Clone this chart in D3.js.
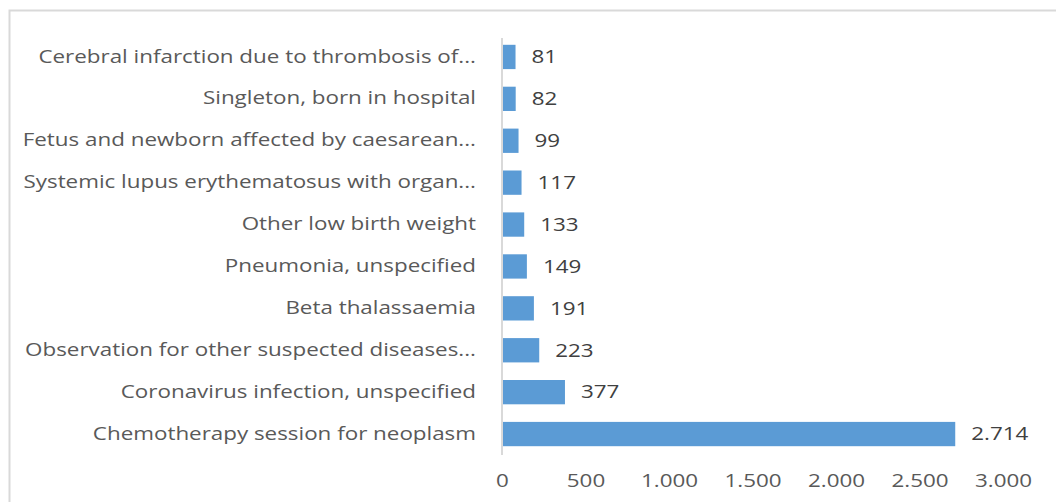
<!DOCTYPE html>
<html>
<head>
<meta charset="utf-8">
<script src="https://cdn.jsdelivr.net/npm/d3@7"></script>
<style>
body{margin:0;background:#fff;}
text{font-family:"Open Sans",sans-serif;}
</style>
</head>
<body>
<svg></svg>
<script>
var categories=["Cerebral infarction due to thrombosis of...","Singleton, born in hospital","Fetus and newborn affected by caesarean...","Systemic lupus erythematosus with organ...","Other low birth weight","Pneumonia, unspecified","Beta thalassaemia","Observation for other suspected diseases...","Coronavirus infection, unspecified","Chemotherapy session for neoplasm"]
var values=[81,82,99,117,133,149,191,223,377,2714]
var ticks=[0,500,1000,1500,2000,2500,3000]

var width=1056, height=502
var svg=d3.select("svg").attr("width",width).attr("height",height)
var stretch=1.28, fs=17.5

// chart frame
svg.append("rect")
    .attr("x",9.5).attr("y",10.5)
    .attr("width",1060).attr("height",510)
    .attr("fill","none").attr("stroke","#d9d9d9").attr("stroke-width",2)

var plot={left:502,right:1003,top:36,bottom:455}

var x=d3.scaleLinear().domain([0,3000]).range([plot.left,plot.right])
var y=d3.scaleBand().domain(categories).range([plot.top,plot.bottom]).paddingInner(0.42).paddingOuter(0.21)

var fmt=function(v){return d3.format(",")(v).replace(/,/g,".")}

svg.selectAll("rect.bar")
    .data(values)
    .enter()
    .append("rect")
    .attr("class","bar")
    .attr("x",x(0))
    .attr("y",function(d,i){return y(categories[i])})
    .attr("width",function(d){return x(d)-x(0)})
    .attr("height",y.bandwidth())
    .attr("fill","#5b9bd5")

// value labels
svg.selectAll("text.val")
    .data(values)
    .enter()
    .append("text")
    .attr("class","val")
    .attr("transform",function(d,i){return "translate("+(x(d)+16)+","+(y(categories[i])+y.bandwidth()/2)+") scale("+stretch+",1)"})
    .attr("dy","0.36em")
    .attr("font-size",fs)
    .attr("fill","#404040")
    .text(fmt)

// category axis
var yAxis=d3.axisLeft(y).tickSize(0).tickPadding(0)
var gy=svg.append("g").attr("transform","translate("+plot.left+",0)").call(yAxis)
gy.select(".domain").attr("stroke","#d9d9d9").attr("stroke-width",2).attr("d","M0,"+(plot.top+2)+"V"+plot.bottom)
gy.selectAll("text").attr("font-size",fs).attr("fill","#595959").attr("font-family","Open Sans")
    .attr("x",0).attr("transform","translate(-26,0) scale("+stretch+",1)")

// value axis
var xAxis=d3.axisBottom(x).tickValues(ticks).tickSize(0).tickPadding(20).tickFormat(fmt)
var gx=svg.append("g").attr("transform","translate(0,"+plot.bottom+")").call(xAxis)
gx.select(".domain").remove()
gx.selectAll("text").attr("font-size",fs).attr("fill","#595959").attr("font-family","Open Sans")
    .attr("transform","scale("+stretch+",1)")
</script>
</body>
</html>
